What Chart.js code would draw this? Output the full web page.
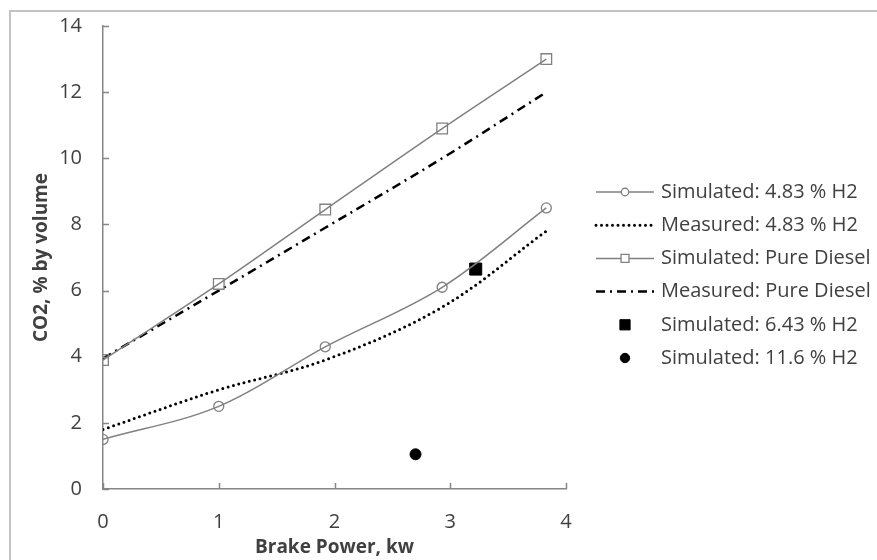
<!DOCTYPE html>
<html>
<head>
<meta charset="utf-8">
<script src="https://cdn.jsdelivr.net/npm/chart.js@4.4.0/dist/chart.umd.min.js"></script>
<style>
  html, body { margin: 0; padding: 0; background: #fff; }
  #wrap { width: 877px; height: 560px; }
</style>
</head>
<body>
<div id="wrap"><canvas id="c" width="877" height="560"></canvas></div>
<script>
// brake power (kw) where the runs were taken
var power = [0, 1.0, 1.92, 2.93, 3.83];
// CO2, % by volume
var simH2 = [1.5, 2.5, 4.3, 6.1, 8.5];
var measH2 = [1.8, 3.0, 3.9, 5.5, 7.8];
var simDiesel = [3.9, 6.2, 8.45, 10.9, 13.0];
var measDiesel = [3.95, 6.0, 7.9, 10.0, 12.0];
// single simulated points
var sim643 = [{x: 3.22, y: 6.65}];
var sim116 = [{x: 2.7, y: 1.05}];

var seriesNames = ['Simulated: 4.83 % H2', 'Measured: 4.83 % H2', 'Simulated: Pure Diesel',
                   'Measured: Pure Diesel', 'Simulated: 6.43 % H2', 'Simulated: 11.6 % H2'];
var xTicks = [0, 1, 2, 3, 4];
var yTicks = [0, 2, 4, 6, 8, 10, 12, 14];

var FONT = '"Open Sans", sans-serif';
var TXT = '#404040';
var AXIS = '#868686';

function pts(xs, ys) {
    var out = [];
    for (var i = 0; i < xs.length; i++) out.push({x: xs[i], y: ys[i]});
    return out;
}

// legend on the right, drawn from the dataset styles
var sideLegend = {
    id: 'sideLegend',
    afterDraw: function(chart) {
        var ctx = chart.ctx;
        var x0 = 596, x1 = 654, tx = 661, y = 192, step = 33.2;
        ctx.save();
        chart.data.datasets.forEach(function(ds) {
            if (ds.showLine) {
                ctx.beginPath();
                ctx.strokeStyle = ds.borderColor;
                ctx.lineWidth = ds.borderWidth;
                ctx.lineCap = ds.borderCapStyle || 'butt';
                ctx.setLineDash(ds.borderDash || []);
                ctx.moveTo(x0, y);
                ctx.lineTo(x1, y);
                ctx.stroke();
                ctx.setLineDash([]);
                ctx.lineCap = 'butt';
            }
            if (ds.pointRadius > 0) {
                ctx.fillStyle = ds.showLine ? '#fff' : ds.pointBackgroundColor;
                ctx.strokeStyle = ds.pointBorderColor;
                ctx.lineWidth = ds.pointBorderWidth;
                Chart.helpers.drawPoint(ctx, {pointStyle: ds.pointStyle, rotation: 0,
                    radius: ds.showLine ? ds.pointRadius * 0.75 : ds.pointRadius * 0.85,
                    borderWidth: ds.pointBorderWidth}, (x0 + x1) / 2, y);
            }
            ctx.fillStyle = TXT;
            ctx.font = '20px ' + FONT;
            ctx.textBaseline = 'middle';
            ctx.textAlign = 'left';
            ctx.fillText(ds.label, tx, y);
            y += step;
        });
        ctx.restore();
    }
};

// inside tick marks + outer frame
var frameTicks = {
    id: 'frameTicks',
    beforeDraw: function(chart) {
        var ctx = chart.ctx;
        ctx.save();
        ctx.fillStyle = '#fff';
        ctx.fillRect(0, 0, chart.width, chart.height);
        ctx.strokeStyle = '#c3c3c3';
        ctx.lineWidth = 2;
        ctx.beginPath();
        ctx.moveTo(10, chart.height);
        ctx.lineTo(10, 11);
        ctx.lineTo(chart.width, 11);
        ctx.stroke();
        ctx.restore();
    },
    afterDraw: function(chart) {
        var ctx = chart.ctx, xs = chart.scales.x, ys = chart.scales.y;
        var a = chart.chartArea;
        ctx.save();
        ctx.strokeStyle = AXIS;
        ctx.lineWidth = 1.5;
        ctx.beginPath();
        xTicks.forEach(function(v) {
            var px = Math.round(xs.getPixelForValue(v)) + 0.5;
            ctx.moveTo(px, a.bottom);
            ctx.lineTo(px, a.bottom - 6);
        });
        yTicks.forEach(function(v) {
            var py = Math.round(ys.getPixelForValue(v)) + 0.5;
            ctx.moveTo(a.left, py);
            ctx.lineTo(a.left + 6, py);
        });
        ctx.stroke();
        ctx.restore();
    }
};

var ctx = document.getElementById('c');
var chart = new Chart(ctx, {
    type: 'scatter',
    data: {
        datasets: [
            {label: seriesNames[0], data: pts(power, simH2), showLine: true, tension: 0.35,
             borderColor: '#808080', borderWidth: 1.5,
             pointStyle: 'circle', pointRadius: 5, pointBackgroundColor: 'rgba(255,255,255,0)',
             pointBorderColor: '#808080', pointBorderWidth: 1.3},
            {label: seriesNames[1], data: pts(power, measH2), showLine: true, tension: 0.35,
             borderColor: '#000', borderWidth: 3, borderDash: [0, 5.5], borderCapStyle: 'round',
             pointRadius: 0},
            {label: seriesNames[2], data: pts(power, simDiesel), showLine: true, tension: 0.35,
             borderColor: '#808080', borderWidth: 1.5,
             pointStyle: 'rect', pointRadius: 7.5, pointBackgroundColor: 'rgba(255,255,255,0)',
             pointBorderColor: '#808080', pointBorderWidth: 1.3},
            {label: seriesNames[3], data: pts(power, measDiesel), showLine: true, tension: 0.35,
             borderColor: '#000', borderWidth: 2.5, borderDash: [9, 5, 2, 5],
             pointRadius: 0},
            {label: seriesNames[4], data: sim643, showLine: false,
             pointStyle: 'rect', pointRadius: 8.5, pointBackgroundColor: '#000',
             pointBorderColor: '#000', pointBorderWidth: 1},
            {label: seriesNames[5], data: sim116, showLine: false,
             pointStyle: 'circle', pointRadius: 5.5, pointBackgroundColor: '#000',
             pointBorderColor: '#000', pointBorderWidth: 1}
        ]
    },
    options: {
        animation: false,
        responsive: false,
        layout: {padding: {top: 26, right: 311, bottom: 0, left: 0}},
        plugins: {legend: {display: false}, tooltip: {enabled: false}},
        scales: {
            x: {
                type: 'linear', min: 0, max: 4,
                afterFit: function(s) { s.height = 71; s.paddingLeft = 0; s.paddingRight = 0; },
                afterBuildTicks: function(s) { s.ticks = xTicks.map(function(v) { return {value: v}; }); },
                grid: {drawOnChartArea: false, drawTicks: false},
                border: {color: AXIS, width: 1.5},
                ticks: {color: TXT, font: {family: FONT, size: 20}, padding: 21},
                title: {display: true, text: 'Brake Power, kw', color: TXT,
                        font: {family: FONT, size: 19, weight: 'bold'}, padding: {top: 0, bottom: 1}}
            },
            y: {
                type: 'linear', min: 0, max: 14,
                afterFit: function(s) { s.width = 103; s.paddingTop = 0; s.paddingBottom = 0; },
                afterBuildTicks: function(s) { s.ticks = yTicks.map(function(v) { return {value: v}; }); },
                grid: {drawOnChartArea: false, drawTicks: false},
                border: {color: AXIS, width: 1.5},
                ticks: {color: TXT, font: {family: FONT, size: 20}, padding: 21},
                title: {display: true, text: 'CO2, % by volume', color: TXT,
                        font: {family: FONT, size: 19, weight: 'bold'}, padding: {top: 30, bottom: 0}}
            }
        }
    },
    plugins: [frameTicks, sideLegend]
});
</script>
</body>
</html>
